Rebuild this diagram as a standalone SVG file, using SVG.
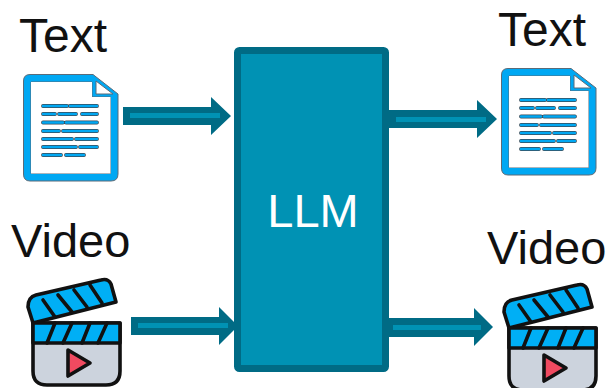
<svg xmlns="http://www.w3.org/2000/svg" width="608" height="388" viewBox="0 0 608 388">
<style>
text{font-family:"Liberation Sans",Arial,sans-serif;font-size:47px;fill:#111}
.arrow{fill:#006b85}
.core{fill:#0092b4}
.ln{stroke:#3b4a55;stroke-width:3.8;stroke-linecap:round;fill:none}
.ln2{stroke:#00a8f3;stroke-width:2.4;stroke-linecap:round;fill:none}
.k{stroke:#111;stroke-width:3.6;stroke-linejoin:round;stroke-linecap:round}
</style>
<defs>
<symbol id="doc" overflow="visible">
<path d="M7 0.500H70L95 20V100Q95 107 88 107H7Q0.500 107 0.500 100V7Q0.500 0.500 7 0.500Z M8 8V99.500H87.500V23H69V8Z" fill="#00a8f3" fill-rule="evenodd" stroke="#5b6b78" stroke-width="1"/>
<path d="M8 8H69V23H87.500V99.500H8Z" fill="#fff"/>
<path d="M73 7L90 20H73Z" fill="#fff" stroke="#5b6b78"/>
<path class="ln" d="M20 32H44M47 32H74M20 40H32M36 40H53M59 40H74M20 48.500H40M43 48.500H74M20 57H36M40 57H74M20 65H49M53 65H74M20 73H53M57 73H74M20 81H38M43 81H61"/>
<path class="ln2" d="M20 32H44M47 32H74M20 40H32M36 40H53M59 40H74M20 48.500H40M43 48.500H74M20 57H36M40 57H74M20 65H49M53 65H74M20 73H53M57 73H74M20 81H38M43 81H61"/>
</symbol>
<symbol id="clap" overflow="visible">
<path d="M4 14Q6 11 10 10L75 -5Q82 -7 85 -1L90 17L7 38L2 22Q2 17 4 14Z" fill="#00aff5" class="k"/>
<path d="M17 15L29 32M32 10L46 27M48 5L61 22M64 0L76 18" class="k" fill="none"/>
<path d="M7 38H94V86Q94 100 80 100H21Q7 100 7 86Z" fill="#ccd3dd" class="k"/>
<path d="M7 38H94V58H7Z" fill="#00aff5" class="k"/>
<path d="M21 58L29 38M37 58L46 38M56 58L64 38M72 58L81 38" class="k" fill="none"/>
<path d="M42 65L64 78L42 91Z" fill="#f04a60" class="k"/>
</symbol>
</defs>
<g id="connectors">
<path class="arrow" d="M123 107H211V97L231 116L211 135V125H123Z"/><rect class="core" x="130" y="113" width="90" height="5"/>
<path class="arrow" d="M131 317H219V307L238 326L219 345V335H131Z"/><rect class="core" x="138" y="323" width="90" height="5"/>
<path class="arrow" d="M389 110H477V100L497 119L477 138V128H389Z"/><rect class="core" x="396" y="117" width="90" height="5"/>
<path class="arrow" d="M389 318H474V308L493 327L474 346V337H389Z"/><rect class="core" x="393" y="325" width="88" height="5"/>
</g>
<g id="llm">
<rect x="237.500" y="50.500" width="148" height="318" rx="2" fill="#0092b4" stroke="#006b85" stroke-width="7"/>
<text x="313" y="227" text-anchor="middle" style="fill:#fff">LLM</text>
</g>
<g id="text-in"><text x="19" y="52" style="font-size:48px">Text</text><use href="#doc" x="23" y="74"/></g>
<g id="video-in"><text x="11" y="257">Video</text><use href="#clap" x="26" y="285"/></g>
<g id="text-out"><text x="498" y="46" style="font-size:48px">Text</text><use href="#doc" x="501" y="68"/></g>
<g id="video-out"><text x="487" y="264">Video</text><use href="#clap" x="502" y="290"/></g>
</svg>
